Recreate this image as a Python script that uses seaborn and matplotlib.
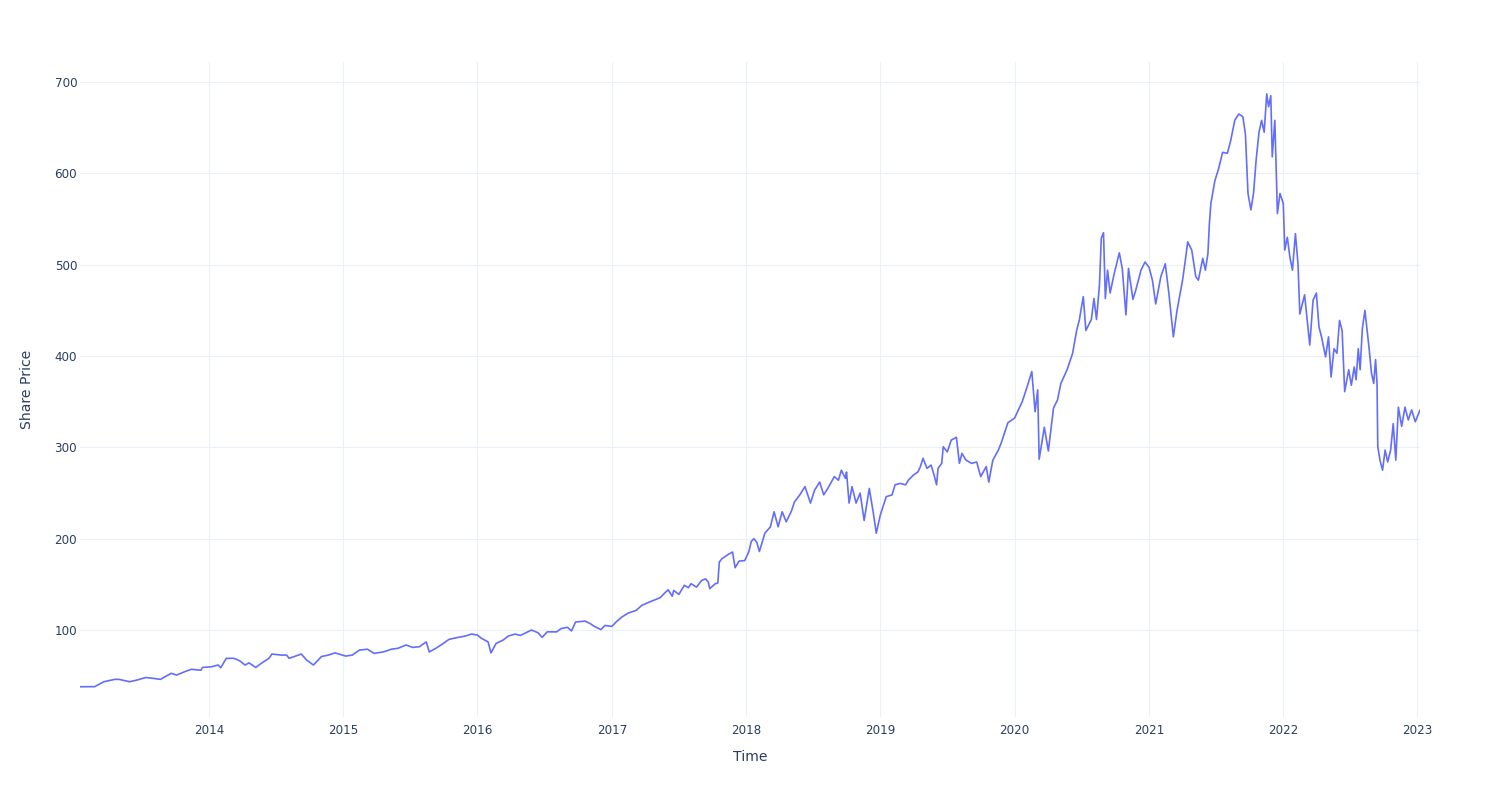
import pandas as pd
import matplotlib
matplotlib.use("Agg")
import matplotlib.pyplot as plt
import matplotlib.dates as mdates
import seaborn as sns

# Значения (примерно, по неделям/пикам)
dates = [
    "2013-01-15", "2013-02-24", "2013-03-21", "2013-04-20", "2013-05-01", "2013-05-30",
    "2013-06-17", "2013-07-13", "2013-08-04", "2013-08-22", "2013-09-20", "2013-10-05",
    "2013-10-27", "2013-11-14", "2013-12-10", "2013-12-14", "2014-01-08", "2014-01-26",
    "2014-02-02", "2014-02-17", "2014-03-10", "2014-03-25", "2014-04-09", "2014-04-20",
    "2014-05-08", "2014-05-23", "2014-06-13", "2014-06-21", "2014-07-16", "2014-07-31",
    "2014-08-07", "2014-09-09", "2014-09-24", "2014-10-12", "2014-11-03", "2014-11-22",
    "2014-12-10", "2014-12-20", "2015-01-08", "2015-01-26", "2015-02-14", "2015-03-08",
    "2015-03-26", "2015-04-20", "2015-05-12", "2015-05-30", "2015-06-21", "2015-07-09",
    "2015-07-27", "2015-08-15", "2015-08-23", "2015-09-10", "2015-09-28", "2015-10-16",
    "2015-11-10", "2015-11-29", "2015-12-16", "2016-01-01", "2016-01-12", "2016-01-30",
    "2016-02-07", "2016-02-21", "2016-03-11", "2016-03-25", "2016-04-13", "2016-04-27",
    "2016-05-27", "2016-06-14", "2016-06-25", "2016-07-09", "2016-08-04", "2016-08-15",
    "2016-09-02", "2016-09-13", "2016-09-24", "2016-10-20", "2016-11-03", "2016-11-14",
    "2016-12-02", "2016-12-13", "2017-01-01", "2017-01-12", "2017-01-27", "2017-02-14",
    "2017-03-08", "2017-03-23", "2017-04-06", "2017-04-24", "2017-05-12", "2017-05-27",
    "2017-06-03", "2017-06-14", "2017-06-18", "2017-07-02", "2017-07-17", "2017-07-28",
    "2017-08-04", "2017-08-19", "2017-09-02", "2017-09-13", "2017-09-20", "2017-09-24",
    "2017-10-09", "2017-10-16", "2017-10-20", "2017-10-27", "2017-11-14", "2017-11-25",
    "2017-12-02", "2017-12-13", "2017-12-28", "2018-01-08", "2018-01-15", "2018-01-22",
    "2018-01-30", "2018-02-06", "2018-02-21", "2018-03-08", "2018-03-18", "2018-03-29",
    "2018-04-09", "2018-04-20", "2018-05-05", "2018-05-12", "2018-05-27", "2018-06-10",
    "2018-06-25", "2018-07-06", "2018-07-20", "2018-07-31", "2018-08-11", "2018-08-29",
    "2018-09-09", "2018-09-17", "2018-09-28", "2018-10-01", "2018-10-08", "2018-10-16",
    "2018-10-27", "2018-11-07", "2018-11-18", "2018-12-02", "2018-12-13", "2018-12-21",
    "2019-01-01", "2019-01-17", "2019-02-02", "2019-02-10", "2019-02-24", "2019-03-11",
    "2019-03-18", "2019-04-02", "2019-04-13", "2019-04-20", "2019-04-27", "2019-05-08",
    "2019-05-19", "2019-05-27", "2019-06-03", "2019-06-07", "2019-06-17", "2019-06-21",
    "2019-07-02", "2019-07-13", "2019-07-27", "2019-08-04", "2019-08-11", "2019-08-22",
    "2019-09-06", "2019-09-20", "2019-10-01", "2019-10-16", "2019-10-23", "2019-11-03",
    "2019-11-18", "2019-11-25", "2019-12-14", "2020-01-01", "2020-01-22", "2020-02-04",
    "2020-02-17", "2020-02-26", "2020-03-04", "2020-03-08", "2020-03-22", "2020-04-02",
    "2020-04-16", "2020-04-27", "2020-05-06", "2020-05-23", "2020-06-07", "2020-06-18",
    "2020-06-25", "2020-07-06", "2020-07-13", "2020-07-28", "2020-08-04", "2020-08-11",
    "2020-08-19", "2020-08-24", "2020-08-30", "2020-09-04", "2020-09-10", "2020-09-17",
    "2020-09-28", "2020-10-12", "2020-10-20", "2020-10-30", "2020-11-06", "2020-11-18",
    "2020-11-25", "2020-12-10", "2020-12-21", "2021-01-01", "2021-01-10", "2021-01-19",
    "2021-02-02", "2021-02-14", "2021-02-24", "2021-03-08", "2021-03-18", "2021-04-02",
    "2021-04-09", "2021-04-16", "2021-04-27", "2021-05-08", "2021-05-15", "2021-05-27",
    "2021-06-03", "2021-06-10", "2021-06-14", "2021-06-18", "2021-06-29", "2021-07-09",
    "2021-07-20", "2021-08-02", "2021-08-11", "2021-08-22", "2021-09-02", "2021-09-13",
    "2021-09-20", "2021-09-27", "2021-10-05", "2021-10-12", "2021-10-19", "2021-10-27",
    "2021-11-03", "2021-11-10", "2021-11-17", "2021-11-22", "2021-11-28", "2021-12-02",
    "2021-12-09", "2021-12-16", "2021-12-23", "2022-01-01", "2022-01-05", "2022-01-12",
    "2022-01-19", "2022-01-26", "2022-02-03", "2022-02-10", "2022-02-15", "2022-02-28",
    "2022-03-07", "2022-03-14", "2022-03-23", "2022-04-01", "2022-04-08", "2022-04-15",
    "2022-04-26", "2022-05-04", "2022-05-11", "2022-05-19", "2022-05-27", "2022-06-03",
    "2022-06-10", "2022-06-17", "2022-06-28", "2022-07-05", "2022-07-13", "2022-07-18",
    "2022-07-24", "2022-07-29", "2022-08-04", "2022-08-11", "2022-08-22", "2022-08-29",
    "2022-09-04", "2022-09-09", "2022-09-13", "2022-09-15", "2022-09-21", "2022-09-28",
    "2022-10-05", "2022-10-12", "2022-10-20", "2022-10-27", "2022-11-03", "2022-11-10",
    "2022-11-19", "2022-11-28", "2022-12-07", "2022-12-16", "2022-12-26", "2023-01-08",
]
prices = [
    37.9, 38.0, 43.4, 46.0, 46.0, 43.4,
    45.0, 48.0, 47.0, 46.0, 52.6, 50.7,
    54.4, 57.0, 56.0, 59.0, 59.8, 61.7,
    58.7, 69.0, 69.0, 66.4, 61.7, 64.0,
    59.0, 63.5, 69.0, 73.7, 72.6, 72.6,
    69.0, 73.7, 67.0, 61.7, 71.0, 72.6,
    75.0, 73.7, 71.5, 72.6, 78.0, 79.0,
    74.5, 76.0, 79.0, 80.0, 83.6, 81.0,
    81.7, 87.0, 76.0, 80.0, 84.7, 89.8,
    92.0, 93.4, 95.6, 94.5, 91.0, 87.0,
    75.0, 85.4, 89.0, 93.4, 95.6, 94.0,
    100.0, 97.0, 92.0, 98.0, 98.0, 101.5,
    103.0, 99.0, 108.7, 109.8, 107.0, 104.0,
    100.5, 105.0, 104.0, 108.7, 114.0, 118.5,
    121.5, 127.0, 129.5, 132.4, 135.4, 141.5,
    144.0, 137.0, 143.4, 139.0, 149.0, 146.3,
    150.7, 147.0, 154.3, 156.0, 152.5, 145.3,
    150.7, 151.4, 174.4, 178.0, 183.0, 185.4,
    168.2, 175.5, 176.0, 185.4, 197.0, 200.0,
    196.0, 186.0, 206.0, 213.0, 229.5, 213.0,
    229.5, 218.5, 231.0, 240.0, 248.0, 257.0,
    239.0, 253.0, 262.0, 248.0, 255.0, 268.0,
    264.0, 275.0, 266.0, 273.0, 239.0, 257.0,
    239.0, 250.0, 220.0, 255.0, 228.0, 206.0,
    226.0, 246.0, 248.0, 259.0, 260.5, 259.0,
    264.0, 270.0, 273.0, 279.0, 288.0, 277.0,
    280.6, 270.0, 259.0, 277.0, 282.5, 300.7,
    295.0, 308.0, 311.0, 282.5, 293.4, 286.0,
    282.5, 284.0, 268.0, 279.0, 262.0, 286.0,
    297.0, 304.0, 327.0, 332.0, 350.0, 366.0,
    383.0, 339.0, 363.0, 287.0, 322.0, 296.0,
    343.0, 352.0, 370.0, 385.0, 403.0, 428.0,
    439.0, 465.0, 428.0, 440.0, 463.0, 440.0,
    478.0, 529.0, 535.0, 463.0, 494.0, 469.0,
    490.0, 513.0, 496.0, 445.0, 496.0, 462.0,
    471.0, 494.0, 503.0, 497.0, 483.0, 457.0,
    487.0, 501.0, 468.0, 421.0, 450.0, 483.0,
    503.0, 525.0, 516.0, 487.0, 483.0, 507.0,
    494.0, 512.0, 545.0, 567.0, 592.0, 605.0,
    623.0, 622.0, 636.0, 658.0, 665.0, 662.0,
    643.0, 578.0, 560.0, 578.0, 614.0, 645.0,
    658.0, 645.0, 687.0, 673.0, 685.0, 618.0,
    658.0, 556.0, 578.0, 567.0, 516.0, 530.0,
    508.0, 494.0, 534.0, 501.0, 446.0, 467.0,
    439.0, 412.0, 461.0, 469.0, 432.0, 421.0,
    399.0, 421.0, 377.0, 408.0, 403.0, 439.0,
    428.0, 361.0, 385.0, 368.0, 388.0, 374.0,
    408.0, 385.0, 430.0, 450.0, 410.0, 381.0,
    370.0, 396.0, 370.0, 301.0, 286.0, 275.0,
    297.0, 284.0, 297.0, 326.0, 286.0, 344.0,
    323.0, 344.0, 330.0, 341.0, 328.0, 341.0,
]

df = pd.DataFrame({"Time": pd.to_datetime(dates), "Share Price": prices})

sns.set_theme(style="white")
plt.rcParams["font.family"] = ["DejaVu Sans"]

text_color = "#2a3f5f"
grid_color = "#EBF0F8"

fig = plt.figure(figsize=(15, 8), dpi=100)
ax = fig.add_axes([0.0533, 0.104, 0.8934, 0.8186])

sns.lineplot(data=df, x="Time", y="Share Price", color="#636EFA", linewidth=1.2, ax=ax)

ax.set_xlim(df["Time"].min(), df["Time"].max())
ax.set_ylim(5, 722)
ax.set_yticks([100, 200, 300, 400, 500, 600, 700])
ax.xaxis.set_major_locator(mdates.YearLocator())
ax.xaxis.set_major_formatter(mdates.DateFormatter("%Y"))

ax.grid(True, color=grid_color, linewidth=0.8)
ax.set_axisbelow(True)
for spine in ax.spines.values():
    spine.set_visible(False)

ax.tick_params(axis="both", length=0, labelsize=8.6, labelcolor=text_color)
ax.tick_params(axis="y", pad=2)
ax.tick_params(axis="x", pad=5)

ax.set_xlabel("Time", fontsize=10.1, color=text_color)
ax.set_ylabel("Share Price", fontsize=10.1, color=text_color)
ax.xaxis.set_label_coords(0.5, -0.05)
ax.yaxis.set_label_coords(-0.034, 0.5)

fig.savefig("out.png", dpi=100)
